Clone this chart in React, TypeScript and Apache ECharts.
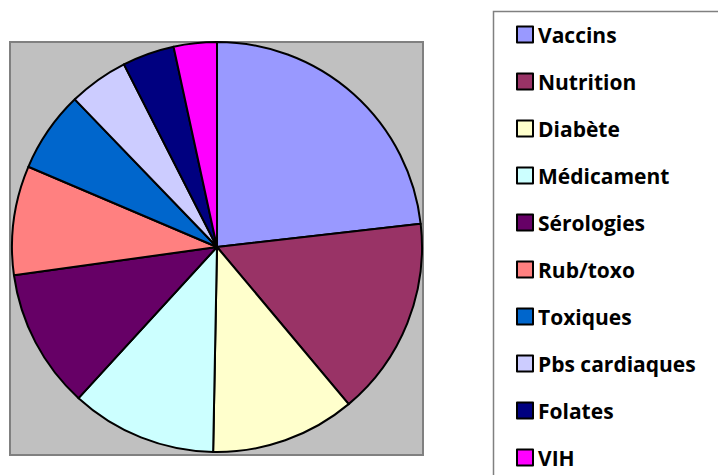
import React, { useEffect, useRef } from "react";
import * as echarts from "echarts";

const categories = [
  "Vaccins",
  "Nutrition",
  "Diabète",
  "Médicament",
  "Sérologies",
  "Rub/toxo",
  "Toxiques",
  "Pbs cardiaques",
  "Folates",
  "VIH",
];
const values = [23.2, 15.7, 11.4, 11.5, 11.0, 8.6, 6.4, 4.7, 4.1, 3.4];
const colors = [
  "#9999FF",
  "#993366",
  "#FFFFCC",
  "#CCFFFF",
  "#660066",
  "#FF8080",
  "#0066CC",
  "#CCCCFF",
  "#000080",
  "#FF00FF",
];

export default function App() {
  const ref = useRef<HTMLDivElement>(null);
  useEffect(() => {
    if (!ref.current) return;
    const chart = echarts.init(ref.current, null, { renderer: "svg" });
    chart.setOption({
      animation: false,
      backgroundColor: "#ffffff",
      color: colors,
      graphic: [
        {
          type: "rect",
          z: -10,
          shape: { x: 10, y: 42, width: 413, height: 413 },
          style: { fill: "#C0C0C0", stroke: "#808080", lineWidth: 2 },
        },
        {
          type: "rect",
          z: -10,
          shape: { x: 493.5, y: 11.5, width: 240, height: 480 },
          style: { fill: "#ffffff", stroke: "#808080", lineWidth: 1.5 },
        },
      ],
      legend: {
        orient: "vertical",
        left: 516,
        top: 24,
        icon: "rect",
        itemWidth: 16,
        itemHeight: 16,
        itemGap: 26,
        padding: 0,
        selectedMode: false,
        itemStyle: { borderColor: "#000000", borderWidth: 2 },
        textStyle: {
          fontFamily: "Open Sans",
          fontWeight: "bold",
          fontSize: 21,
          color: "#000000",
        },
        data: categories,
      },
      series: [
        {
          type: "pie",
          center: [217, 247],
          radius: 205,
          startAngle: 90,
          clockwise: true,
          silent: true,
          label: { show: false },
          labelLine: { show: false },
          itemStyle: { borderColor: "#000000", borderWidth: 2 },
          data: categories.map((name, i) => ({ name, value: values[i] })),
        },
      ],
    });
    return () => chart.dispose();
  }, []);
  return (
    <div
      ref={ref}
      style={{ position: "fixed", left: 0, top: 0, width: 718, height: 475 }}
    />
  );
}
